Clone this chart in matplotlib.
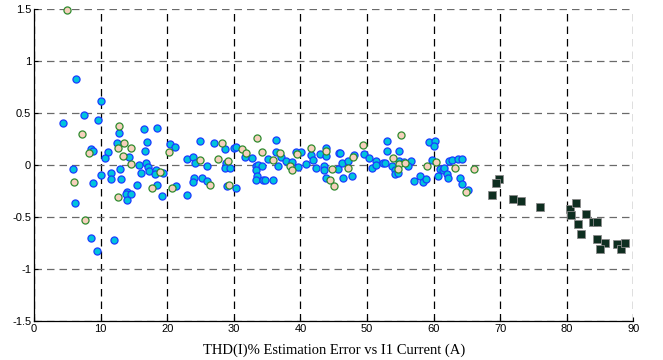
import matplotlib
matplotlib.use('Agg')
import matplotlib.pyplot as plt

# blue points (cyan face, blue edge)
blueX = [6.3, 10.0, 7.5, 4.3, 9.6, 12.7, 16.5, 18.5, 25.0, 12.4, 16.9, 16.6, 20.4, 21.2,
         8.5, 8.9, 11.1, 10.6, 14.3, 15.7, 16.8, 17.1, 17.3, 18.3, 18.2, 19.3, 16.1,
         23.0, 23.8, 24.1, 26.0, 5.9, 8.8, 10.0, 11.5, 11.5, 12.9, 13.1, 15.4, 18.5,
         21.3, 24.0, 23.9, 25.2, 26.0, 13.9, 13.8, 14.6, 13.9, 19.2, 22.9, 6.2, 8.6,
         12.0, 9.4,
         27.1, 28.7, 28.8, 28.7, 29.5, 29.0, 30.4, 30.0, 30.4, 31.7, 32.7, 36.3, 36.3,
         37.1, 35.1, 37.8, 38.8, 33.3, 33.7, 34.2, 33.3, 33.5, 33.3, 34.4, 34.7, 35.9,
         36.6, 39.7, 39.4, 40.1, 41.6, 41.9, 40.8, 42.9, 43.8, 43.9, 42.3, 43.6, 43.6,
         43.9, 45.8, 46.0, 45.7, 46.4, 46.3, 47.1, 48.0, 47.8, 49.6, 50.3, 50.8, 51.4,
         51.4, 52.4, 52.7, 53.0, 53.0, 54.8, 53.7, 54.2, 54.2, 54.6, 54.8, 55.5, 56.6,
         56.2, 57.1, 58.0, 58.4, 58.8, 59.3, 60.2, 60.1, 59.7,
         60.9, 61.4, 61.6, 60.6, 62.0, 62.1, 62.3, 62.7, 63.6, 64.3, 64.0, 64.3, 65.1]
blueY = [0.83, 0.62, 0.48, 0.41, 0.43, 0.31, 0.35, 0.36, 0.23, 0.21, 0.22, 0.14, 0.20, 0.17,
         0.15, 0.14, 0.13, 0.07, 0.08, 0.00, 0.02, -0.02, -0.06, -0.05, -0.09, -0.08, -0.08,
         0.06, 0.08, 0.02, -0.01, -0.04, -0.17, -0.10, -0.08, -0.13, -0.04, -0.13, -0.19, -0.19,
         -0.20, -0.12, -0.16, -0.12, -0.15, -0.26, -0.28, -0.28, -0.34, -0.30, -0.29, -0.37, -0.70,
         -0.72, -0.83,
         0.21, 0.15, 0.02, -0.03, -0.03, -0.20, -0.22, 0.16, 0.17, 0.08, 0.07, 0.24, 0.13,
         0.08, 0.06, 0.04, 0.03, -0.01, 0.00, -0.01, -0.05, -0.11, -0.14, -0.14, -0.14, -0.14,
         -0.01, -0.02, 0.13, 0.13, 0.10, 0.05, 0.01, 0.11, 0.16, 0.09, -0.03, -0.01, -0.05,
         -0.12, 0.12, 0.12, -0.04, -0.12, 0.02, 0.04, 0.10, -0.11, 0.11, 0.07, -0.03, 0.04,
         0.00, 0.02, 0.02, 0.23, 0.14, 0.14, -0.01, -0.05, -0.09, -0.08, 0.04, 0.03, 0.04,
         -0.01, -0.15, -0.11, -0.16, -0.13, 0.22, 0.23, 0.18, 0.05,
         -0.04, -0.05, -0.03, -0.11, -0.09, -0.12, 0.04, 0.05, 0.06, 0.06, -0.12, -0.18, -0.24]

# green-edged points (peach face)
greenX = [4.9, 7.2, 12.7, 13.5, 12.6, 14.5, 20.2, 8.2, 13.4, 14.5, 18.9, 24.9, 6.0,
          17.7, 20.7, 26.4, 12.6, 7.6,
          28.3, 27.6, 29.1, 29.3, 31.2, 31.8, 33.5, 34.3, 37.0, 35.9, 38.5, 38.8, 39.5,
          41.6, 43.8, 44.4, 45.0, 44.7, 47.1, 47.9, 49.4, 55.1, 53.9, 54.8, 54.7, 55.7,
          59.0, 60.4, 63.2, 66.0, 64.8]
greenY = [1.49, 0.30, 0.38, 0.21, 0.16, 0.16, 0.13, 0.12, 0.09, 0.01, -0.07, 0.05, -0.16,
          -0.22, -0.22, -0.19, -0.31, -0.53,
          0.21, 0.06, 0.04, -0.19, 0.15, 0.12, 0.26, 0.13, 0.12, 0.05, -0.01, -0.05, 0.11,
          0.16, 0.14, -0.14, -0.20, -0.04, -0.03, 0.08, 0.19, 0.29, 0.07, 0.01, -0.04, 0.02,
          -0.01, 0.03, -0.03, -0.04, -0.26]

# squares (high current region)
sqX = [69.8, 69.3, 68.7, 71.9, 73.1, 76.0, 80.5, 81.4, 80.7, 82.9, 81.7, 84.0, 84.6,
       82.1, 84.5, 85.7, 85.0, 87.5, 88.1, 88.8]
sqY = [-0.13, -0.17, -0.29, -0.33, -0.35, -0.40, -0.42, -0.37, -0.48, -0.47, -0.57, -0.55, -0.55,
       -0.66, -0.71, -0.75, -0.81, -0.76, -0.81, -0.75]

fig = plt.figure(figsize=(6.63, 3.6), dpi=100)
ax = fig.add_axes([0.0513, 0.109, 0.904, 0.865])

ax.plot(blueX, blueY, 'o', ms=5.1, mfc='#00c4dc', mec='#1a3cff', mew=0.9, zorder=3, clip_on=False)
ax.plot(greenX, greenY, 'o', ms=5.1, mfc='#f6d0bc', mec='#2e8b2e', mew=0.9, zorder=3, clip_on=False)
ax.plot(sqX, sqY, 's', ms=5.4, mfc='#0e2e20', mec='#8a8a8a', mew=0.6, zorder=3)

ax.set_xlim(0, 90)
ax.set_ylim(-1.5, 1.5)
ax.set_xticks(range(0, 91, 10))
ax.set_yticks([-1.5, -1, -0.5, 0, 0.5, 1, 1.5])
ax.set_yticklabels(['-1.5', '-1', '-0.5', '0', '0.5', '1', '1.5'])

ax.xaxis.grid(True, color='black', linestyle=(0, (6, 4)), linewidth=0.9)
ax.yaxis.grid(True, color='#6a6a6a', linestyle=(0, (6, 4)), linewidth=0.9)
ax.set_axisbelow(True)

for s in ['top', 'right']:
    ax.spines[s].set_visible(False)
for s in ['left', 'bottom']:
    ax.spines[s].set_color('black')
    ax.spines[s].set_linewidth(0.9)

ax.tick_params(direction='in', length=3, width=0.8, labelsize=8, pad=2)
for lbl in ax.get_xticklabels() + ax.get_yticklabels():
    lbl.set_family('Liberation Sans')

ax.set_xlabel('THD(I)% Estimation Error vs I1 Current (A)', family='Liberation Serif',
              fontsize=10.5, labelpad=7)

fig.savefig('out.png', dpi=100)
